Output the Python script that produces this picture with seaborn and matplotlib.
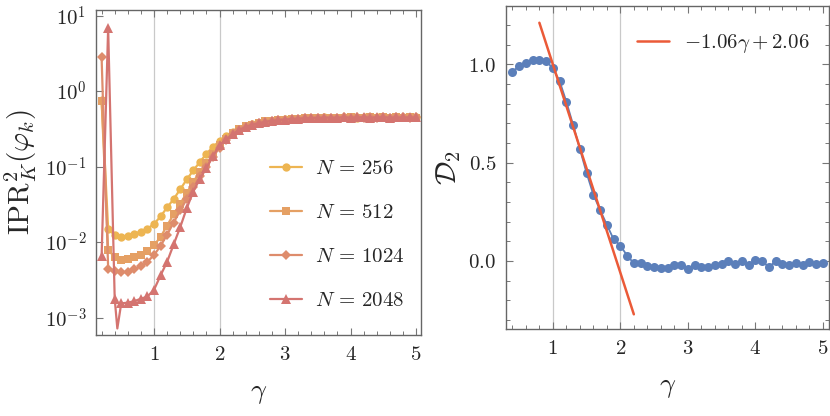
import numpy as np
import pandas as pd
import matplotlib
matplotlib.use('Agg')
import matplotlib.pyplot as plt
import seaborn as sns
from matplotlib.ticker import FixedLocator, FuncFormatter, MultipleLocator, NullLocator

# Datos del panel izquierdo (IPR vs gamma)
gamma = [0.2, 0.3, 0.4, 0.5, 0.6, 0.7, 0.8, 0.9, 1.0, 1.1, 1.2, 1.3, 1.4, 1.5, 1.6,
         1.7, 1.8, 1.9, 2.0, 2.1, 2.2, 2.3, 2.4, 2.5, 2.6, 2.7, 2.8, 2.9, 3.0, 3.1,
         3.2, 3.3, 3.4, 3.5, 3.6, 3.7, 3.8, 3.9, 4.0, 4.1, 4.2, 4.3, 4.4, 4.5, 4.6,
         4.7, 4.8, 4.9, 5.0]

ipr_256 = [0.76, 0.0151, 0.0123, 0.0117, 0.0120, 0.0129, 0.0138, 0.0151, 0.0174, 0.0219,
           0.0288, 0.0372, 0.0501, 0.0676, 0.0891, 0.115, 0.148, 0.182, 0.219, 0.257,
           0.288, 0.316, 0.343, 0.363, 0.380, 0.398, 0.407, 0.417, 0.422, 0.427,
           0.432, 0.437, 0.437, 0.442, 0.447, 0.442, 0.442, 0.447, 0.447, 0.442,
           0.452, 0.447, 0.447, 0.447, 0.442, 0.447, 0.447, 0.447, 0.447]
ipr_512 = [0.75, 0.00794, 0.00631, 0.00589, 0.00603, 0.00631, 0.00676, 0.00759, 0.00912, 0.0117,
           0.0166, 0.0234, 0.0324, 0.0447, 0.0631, 0.0851, 0.110, 0.145, 0.191, 0.234,
           0.275, 0.312, 0.340, 0.361, 0.378, 0.396, 0.407, 0.415, 0.420, 0.425,
           0.430, 0.435, 0.440, 0.440, 0.445, 0.445, 0.440, 0.445, 0.450, 0.445,
           0.445, 0.450, 0.445, 0.447, 0.445, 0.450, 0.445, 0.447, 0.445]
ipr_1024 = [2.8, 0.00447, 0.00417, 0.00398, 0.00407, 0.00437, 0.00479, 0.00550, 0.00676, 0.00891,
            0.0126, 0.0182, 0.0263, 0.0372, 0.0537, 0.0741, 0.100, 0.135, 0.178, 0.224,
            0.269, 0.308, 0.338, 0.360, 0.377, 0.394, 0.405, 0.414, 0.420, 0.426,
            0.431, 0.436, 0.438, 0.442, 0.444, 0.446, 0.444, 0.448, 0.446, 0.447,
            0.444, 0.448, 0.446, 0.449, 0.445, 0.447, 0.449, 0.446, 0.447]
# N = 2048 lleva un punto extra (0.44) sin marcador: la caída bajo 1e-3
gamma_2048 = [0.2, 0.3, 0.4, 0.44, 0.5, 0.6, 0.7, 0.8, 0.9, 1.0, 1.1, 1.2, 1.3, 1.4, 1.5, 1.6,
              1.7, 1.8, 1.9, 2.0, 2.1, 2.2, 2.3, 2.4, 2.5, 2.6, 2.7, 2.8, 2.9, 3.0, 3.1,
              3.2, 3.3, 3.4, 3.5, 3.6, 3.7, 3.8, 3.9, 4.0, 4.1, 4.2, 4.3, 4.4, 4.5, 4.6,
              4.7, 4.8, 4.9, 5.0]
ipr_2048 = [0.0065, 6.8, 0.00178, 0.00072, 0.00155, 0.00158, 0.00166, 0.00178, 0.00191, 0.00234,
            0.00363, 0.00550, 0.00933, 0.0158, 0.0282, 0.0468, 0.0692, 0.0955, 0.138, 0.191,
            0.229, 0.269, 0.305, 0.336, 0.358, 0.376, 0.393, 0.404, 0.414, 0.420, 0.426,
            0.432, 0.436, 0.440, 0.442, 0.446, 0.444, 0.446, 0.448, 0.446, 0.448,
            0.450, 0.446, 0.448, 0.450, 0.446, 0.448, 0.448, 0.447, 0.448]

series_labels = [r'$N\,=\,256$', r'$N\,=\,512$', r'$N\,=\,1024$', r'$N\,=\,2048$']
series_colors = ['#EDB552', '#E5A064', '#DE8C6C', '#D47470']
series_markers = ['o', 's', 'D', '^']

# Datos del panel derecho (D2 vs gamma)
gamma_d2 = [0.4, 0.5, 0.6, 0.7, 0.8, 0.9, 1.0, 1.1, 1.2, 1.3, 1.4, 1.5, 1.6, 1.7, 1.8,
            1.9, 2.0, 2.1, 2.2, 2.3, 2.4, 2.5, 2.6, 2.7, 2.8, 2.9, 3.0, 3.1, 3.2, 3.3,
            3.4, 3.5, 3.6, 3.7, 3.8, 3.9, 4.0, 4.1, 4.2, 4.3, 4.4, 4.5, 4.6, 4.7, 4.8,
            4.9, 5.0]
d2 = [0.963, 0.991, 1.008, 1.02, 1.02, 1.017, 0.98, 0.915, 0.81, 0.692, 0.57, 0.447, 0.337,
      0.259, 0.184, 0.11, 0.078, 0.027, -0.012, -0.01, -0.026, -0.03, -0.034, -0.037,
      -0.022, -0.02, -0.041, -0.02, -0.03, -0.03, -0.02, -0.017, -0.003, -0.017, -0.003,
      -0.02, 0.002, 0.0, -0.032, -0.003, -0.015, -0.02, -0.012, -0.022, -0.008, -0.017,
      -0.012]
fit_range = [0.8, 2.2]
fit_slope = -1.06
fit_icept = 2.06


def math_int(v, pos):
    return r'$%d$' % round(v)


def estilo_ejes(ax, right=True):
    ax.tick_params(which='both', direction='in', top=True, right=right,
                   color='#777777', labelsize=15, pad=7)
    ax.tick_params(which='major', length=5, width=0.8)
    ax.tick_params(which='minor', length=3, width=0.7)
    for sp in ax.spines.values():
        sp.set_color('#666666')
        sp.set_linewidth(1.0)
    for g in [1, 2]:
        ax.axvline(g, color='#C9C9C9', lw=0.9, zorder=0)
    ax.xaxis.set_major_locator(FixedLocator([1, 2, 3, 4, 5]))
    ax.xaxis.set_minor_locator(MultipleLocator(0.2))
    ax.xaxis.set_major_formatter(FuncFormatter(math_int))


def main():
    sns.set_style('ticks')
    plt.rcParams['mathtext.fontset'] = 'cm'
    plt.rcParams['font.family'] = ['DejaVu Serif']

    fig = plt.figure(figsize=(8.3, 4.16), dpi=100)
    ax1 = fig.add_axes([0.1157, 0.1947, 0.3916, 0.781])
    ax2 = fig.add_axes([0.6096, 0.209, 0.389, 0.776])

    # Panel izquierdo
    xs = [gamma, gamma, gamma, gamma_2048]
    ys = [ipr_256, ipr_512, ipr_1024, ipr_2048]
    sizes = {'o': 6, 's': 6, 'D': 5, '^': 7.5}
    for i in range(4):
        df = pd.DataFrame({'gamma': xs[i], 'ipr': ys[i]})
        idx = [k for k in range(len(xs[i])) if not (i == 3 and k == 3)]
        sns.lineplot(data=df, x='gamma', y='ipr', ax=ax1, color=series_colors[i],
                     marker=series_markers[i], markersize=sizes[series_markers[i]],
                     markeredgewidth=0, markevery=idx, lw=1.6,
                     label=series_labels[i], zorder=3 + i)
    ax1.set_yscale('log')
    ax1.set_xlim(0.115, 5.076)
    ax1.set_ylim(5.9e-4, 11.8)
    estilo_ejes(ax1, right=False)
    ax1.yaxis.set_major_locator(FixedLocator([1e-3, 1e-2, 1e-1, 1e0, 1e1]))
    ax1.yaxis.set_minor_locator(NullLocator())
    ax1.yaxis.set_major_formatter(FuncFormatter(lambda v, p: r'$10^{%d}$' % round(np.log10(v))))
    ax1.set_xlabel(r'$\gamma$', fontsize=20, labelpad=11)
    ax1.set_ylabel(r'$\mathrm{IPR}^2_K(\varphi_k)$', fontsize=21, labelpad=4)
    ax1.legend(loc='center left', bbox_to_anchor=(0.535, 0.309), frameon=False, fontsize=15,
               handlelength=1.55, labelspacing=1.2, handletextpad=0.6,
               borderaxespad=0, borderpad=0)

    # Panel derecho
    df2 = pd.DataFrame({'gamma': gamma_d2, 'd2': d2})
    sns.lineplot(data=df2, x='gamma', y='d2', ax=ax2, color='#5B7FBA', marker='o',
                 markersize=6.5, markeredgewidth=0, lw=1.3, zorder=3)
    fit_x = np.array(fit_range)
    ax2.plot(fit_x, fit_slope * fit_x + fit_icept, color='#EB5A38', lw=1.8,
             label=r'$-1.06\gamma+2.06$', zorder=4)
    ax2.set_xlim(0.305, 5.09)
    ax2.set_ylim(-0.347, 1.296)
    estilo_ejes(ax2, right=True)
    ax2.yaxis.set_major_locator(FixedLocator([0.0, 0.5, 1.0]))
    ax2.yaxis.set_minor_locator(MultipleLocator(0.1))
    ax2.yaxis.set_major_formatter(FuncFormatter(lambda v, p: r'$%.1f$' % v))
    ax2.set_xlabel(r'$\gamma$', fontsize=20, labelpad=11)
    ax2.set_ylabel(r'$\mathcal{D}_2$', fontsize=21, labelpad=4)
    ax2.legend(loc='center left', bbox_to_anchor=(0.405, 0.885), frameon=False, fontsize=15,
               handlelength=1.55, handletextpad=0.7, borderaxespad=0, borderpad=0)

    fig.savefig('out.png', dpi=100)


if __name__ == "__main__":
    main()
